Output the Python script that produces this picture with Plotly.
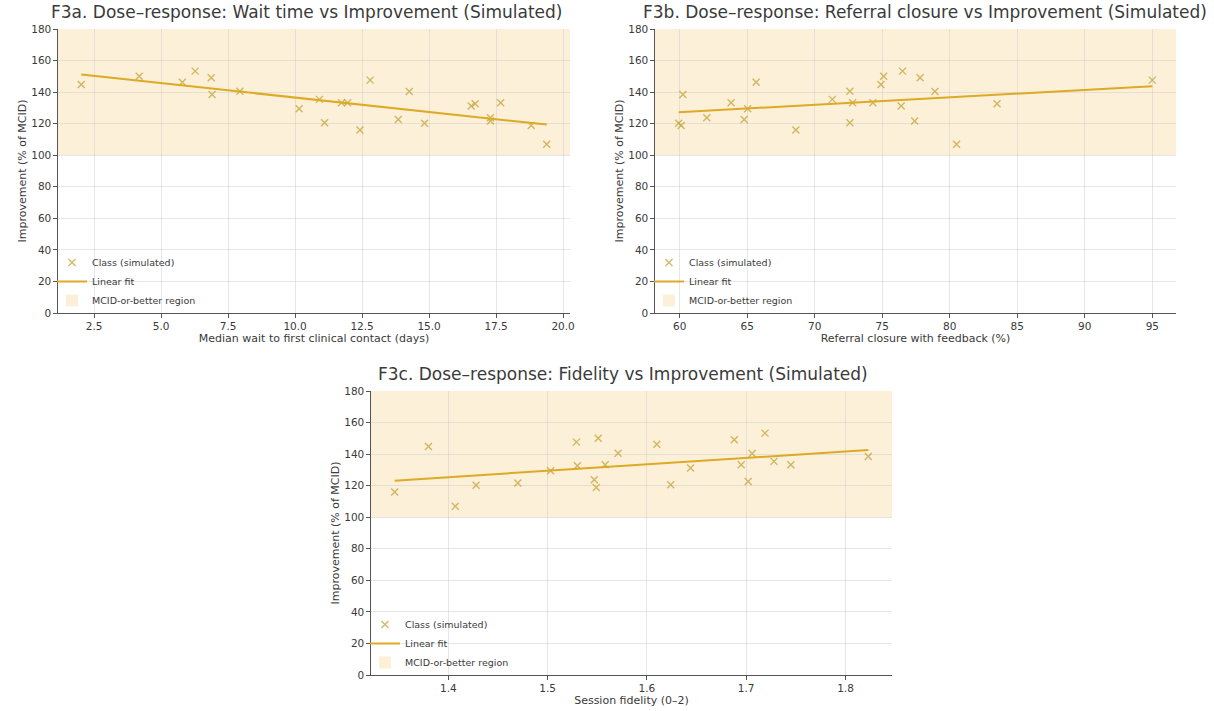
import numpy as np
import plotly.graph_objects as go

# ---- data ----
improvement = [144.8, 150.1, 146.3, 153.3, 149.1, 138.5, 140.6, 129.5, 135.4, 120.6, 133.3, 133.3,
               116.0, 147.6, 122.7, 140.4, 120.2, 131.2, 132.6, 123.8, 121.7, 133.3, 118.9, 107.0]
wait_days = [2.02, 4.18, 5.79, 6.27, 6.87, 6.90, 7.94, 10.15, 10.91, 11.10, 11.73, 11.96,
             12.42, 12.80, 13.85, 14.26, 14.83, 16.57, 16.72, 17.29, 17.29, 17.67, 18.81, 19.39]
closure_pct = [74.9, 75.1, 65.66, 76.5, 77.8, 60.23, 72.6, 65.03, 71.3, 72.6, 63.8, 72.8,
               68.6, 95.0, 64.77, 78.9, 59.92, 76.4, 83.5, 62.0, 77.4, 74.3, 60.1, 80.5]
fidelity = [1.380, 1.551, 1.610, 1.719, 1.688, 1.823, 1.571, 1.503, 1.728, 1.624, 1.558, 1.695,
            1.346, 1.529, 1.702, 1.706, 1.428, 1.644, 1.530, 1.547, 1.470, 1.745, 1.549, 1.407]

mcid_low, mcid_high = 100, 180
y_ticks = [0, 20, 40, 60, 80, 100, 120, 140, 160, 180]

titles = ["F3a. Dose–response: Wait time vs Improvement (Simulated)",
          "F3b. Dose–response: Referral closure vs Improvement (Simulated)",
          "F3c. Dose–response: Fidelity vs Improvement (Simulated)"]
xlabels = ["Median wait to first clinical contact (days)",
           "Referral closure with feedback (%)",
           "Session fidelity (0–2)"]
ylabel = "Improvement (% of MCID)"
series_names = ["Class (simulated)", "Linear fit", "MCID-or-better region"]

xs_all = [wait_days, closure_pct, fidelity]
x_dticks = [2.5, 5, 0.1]
x_formats = [".1f", "d", ".1f"]

W, H = 1214, 711
# axes boxes in pixels: (left, right, top, bottom) and title centres
boxes = [(58, 570, 29, 313), (655, 1176, 29, 313), (371, 892, 391, 675)]
title_cx = [306, 925, 623]

FONT = "DejaVu Sans"
marker_color = "rgba(198,168,64,0.8)"
line_color = "#dcaa24"
region_fill = "rgba(250,214,150,0.36)"
text_color = "#3a3a3a"

fig = go.Figure()

for i, (xs, box) in enumerate(zip(xs_all, boxes)):
    n = "" if i == 0 else str(i + 1)
    xa, ya = "x" + n, "y" + n
    leg = "legend" + n
    xarr = np.array(xs)
    yarr = np.array(improvement)
    lo, hi = xarr.min(), xarr.max()
    pad = 0.05 * (hi - lo)

    fig.add_trace(go.Scatter(
        x=xs, y=improvement, mode="markers", name=series_names[0],
        marker=dict(symbol="x-thin", size=7, line=dict(width=1.4, color=marker_color), color=marker_color),
        xaxis=xa, yaxis=ya, legend=leg, legendrank=1))
    slope, intercept = np.polyfit(xarr, yarr, 1)
    fx = np.array([lo, hi])
    fig.add_trace(go.Scatter(
        x=fx, y=slope * fx + intercept, mode="lines", name=series_names[1],
        line=dict(color=line_color, width=2), xaxis=xa, yaxis=ya, legend=leg, legendrank=2))
    fig.add_shape(type="rect", xref=xa + " domain", yref=ya, x0=0, x1=1, y0=mcid_low, y1=mcid_high,
                  fillcolor=region_fill, line=dict(width=0), layer="below",
                  showlegend=True, name=series_names[2], legend=leg, legendrank=3)

    l, r, t, b = box
    dom_x = [l / W, r / W]
    dom_y = [1 - b / H, 1 - t / H]
    axis_common = dict(showline=True, linecolor="#555555", linewidth=1.2, ticks="outside",
                       ticklen=3.5, tickcolor="#555555", tickwidth=1, automargin=False,
                       showgrid=True, gridcolor="rgba(200,200,200,0.45)", gridwidth=0.8,
                       zeroline=False, tickfont=dict(family=FONT, size=10.5, color=text_color),
                       mirror=False)
    fig.layout["xaxis" + n] = dict(
        domain=dom_x, anchor=ya, range=[lo - pad, hi + pad], dtick=x_dticks[i], tick0=0,
        tickformat=x_formats[i],
        title=dict(text=xlabels[i], font=dict(family=FONT, size=11, color=text_color), standoff=3),
        **axis_common)
    fig.layout["yaxis" + n] = dict(
        domain=dom_y, anchor=xa, range=[0, 180], tickvals=y_ticks,
        title=dict(text=ylabel, font=dict(family=FONT, size=11, color=text_color), standoff=2),
        **axis_common)
    fig.add_annotation(text=titles[i], xref="paper", yref="paper",
                       x=title_cx[i] / W, y=1 - (t - 5) / H, xanchor="center", yanchor="bottom",
                       showarrow=False, font=dict(family=FONT, size=17, color=text_color))
    fig.layout[leg] = dict(x=(l - 6) / W, y=1 - (b - 65) / H, xanchor="left", yanchor="top",
                           bgcolor="rgba(0,0,0,0)", borderwidth=0, itemwidth=30,
                           font=dict(family=FONT, size=9.5, color=text_color), tracegroupgap=0)

fig.update_layout(width=W, height=H, margin=dict(l=0, r=0, t=0, b=0),
                  plot_bgcolor="white", paper_bgcolor="white", showlegend=True,
                  font=dict(family=FONT, color=text_color))

fig.write_html("out.html", config={"displayModeBar": False},
               post_script="document.body.style.margin='0px';")
